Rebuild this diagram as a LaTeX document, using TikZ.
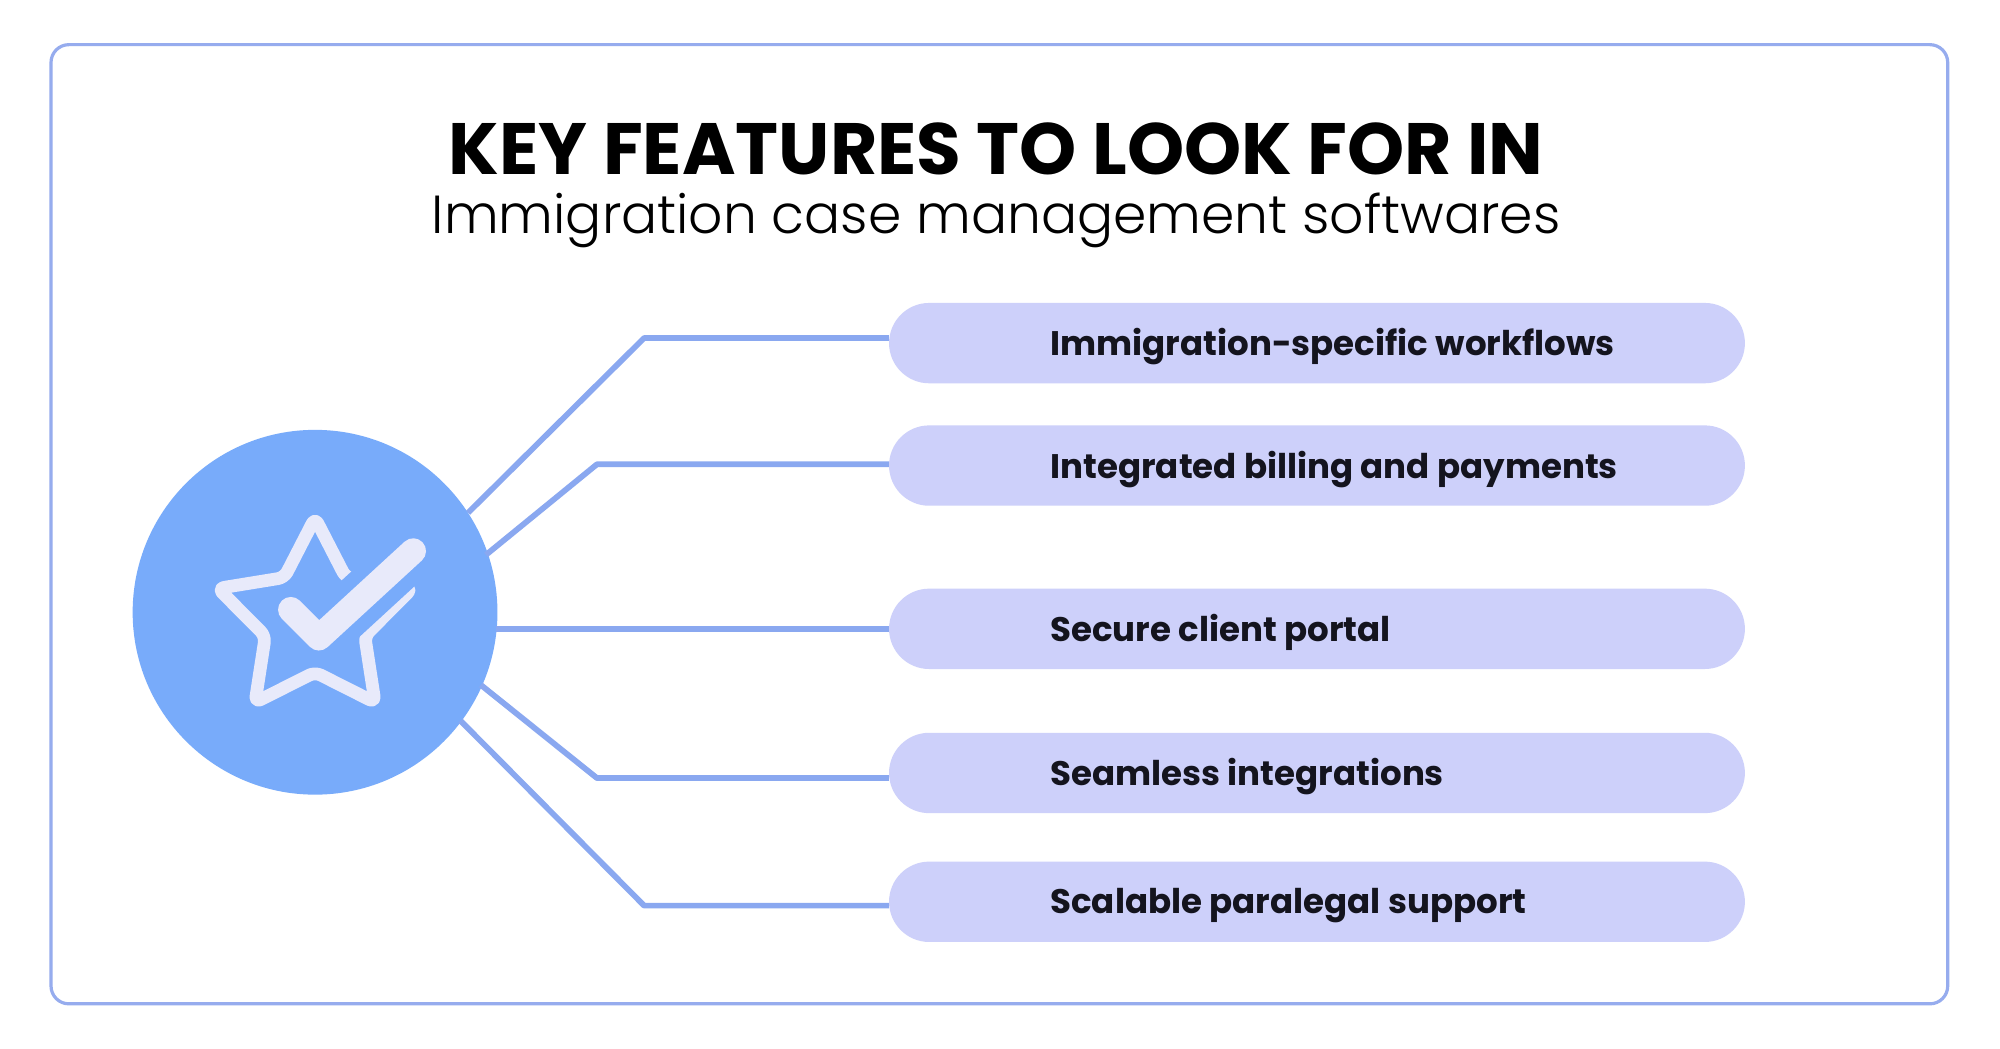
\documentclass[tikz,border=0pt]{standalone}
\usepackage{fontspec}
\setmainfont{Poppins}
\newfontfamily\lightf{Poppins Light}
\begin{document}
\begin{tikzpicture}[x=1pt,y=-1pt,
  conn/.style={draw={rgb,255:red,138;green,168;blue,240}, line width=4.5pt, line join=round},
  pill/.style={fill={rgb,255:red,205;green,208;blue,250}, rounded corners=31.5pt, minimum width=671pt, minimum height=63pt, inner sep=0pt},
  lab/.style={anchor=west, font=\fontsize{26.7}{29}\selectfont\bfseries, text={rgb,255:red,20;green,20;blue,30}}]
\useasboundingbox (0,0) rectangle (1568,822);
\fill[white] (0,0) rectangle (1568,822);
\draw[draw={rgb,255:red,150;green,172;blue,238}, line width=2.5pt, rounded corners=14pt] (40,35) rectangle (1527,787);
\node[font=\fontsize{57}{60}\selectfont\bfseries] (t) at (781,117) {KEY FEATURES TO LOOK FOR IN};
\node[font=\fontsize{42}{46}\selectfont\lightf] (s) at (781,173) {Immigration case management softwares};
\node[circle, fill={rgb,255:red,120;green,171;blue,250}, minimum size=286pt, inner sep=0pt] (c) at (247,480) {};
\foreach \i/\y/\t in {1/269/Immigration-specific workflows,2/365/Integrated billing and payments,3/493/Secure client portal,4/606/Seamless integrations,5/707/Scalable paralegal support}{
  \node[pill] (p\i) at (1032.5,\y) {};
  \node[lab] (l\i) at (820,\y+3) {\t};
}
\coordinate (a1) at (367,402); \coordinate (b1) at (505,265);
\coordinate (a2) at (381,435); \coordinate (b2) at (468,364);
\coordinate (a3) at (389,493);
\coordinate (a4) at (377,537); \coordinate (b4) at (468,610);
\coordinate (a5) at (361,565); \coordinate (b5) at (505,710);
\draw[conn] (a1) -- (b1) -- (p1.west |- b1);
\draw[conn] (a2) -- (b2) -- (p2.west |- b2);
\draw[conn] (a3) -- (p3.west |- a3);
\draw[conn] (a4) -- (b4) -- (p4.west |- b4);
\draw[conn] (a5) -- (b5) -- (p5.west |- b5);
% star icon
\begin{scope}[shift={(247,486)}]
\draw[draw={rgb,255:red,232;green,234;blue,250}, line width=10pt, line join=round, rounded corners=5pt]
  (270:80) -- (306:41) -- (342:80) -- (18:41) -- (54:80) -- (90:41) -- (126:80) -- (162:41) -- (198:80) -- (234:41) -- cycle;
\draw[draw={rgb,255:red,120;green,171;blue,250}, line width=42pt, line cap=round] (3,14) -- (77,-54);
\draw[draw={rgb,255:red,232;green,234;blue,250}, line width=20pt, line cap=round, line join=round] (-19,-8) -- (3,14) -- (77,-54);
\end{scope}
\end{tikzpicture}
\end{document}
